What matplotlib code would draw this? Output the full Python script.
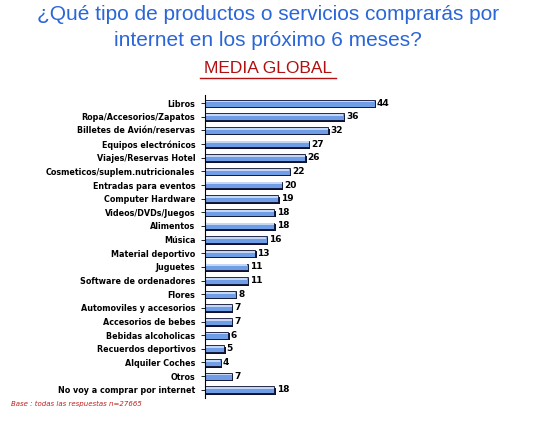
import numpy as np
import matplotlib.pyplot as plt

# categorías y valores (%)
categorias = ['Libros', 'Ropa/Accesorios/Zapatos', 'Billetes de Avión/reservas',
              'Equipos electrónicos', 'Viajes/Reservas Hotel',
              'Cosmeticos/suplem.nutricionales', 'Entradas para eventos',
              'Computer Hardware', 'Videos/DVDs/Juegos', 'Alimentos', 'Música',
              'Material deportivo', 'Juguetes', 'Software de ordenadores', 'Flores',
              'Automoviles y accesorios', 'Accesorios de bebes', 'Bebidas alcoholicas',
              'Recuerdos deportivos', 'Alquiler Coches', 'Otros',
              'No voy a comprar por internet']
valores = [44, 36, 32, 27, 26, 22, 20, 19, 18, 18, 16, 13, 11, 11, 8, 7, 7, 6, 5, 4, 7, 18]

fig = plt.figure(figsize=(5.5, 4.22), dpi=100)
fig.patch.set_facecolor('white')

# títulos
fig.text(0.487, 0.965, '¿Qué tipo de productos o servicios comprarás por',
         ha='center', va='center', fontsize=15, color='#2a66d8', family='Liberation Sans')
fig.text(0.487, 0.905, 'internet en los próximo 6 meses?',
         ha='center', va='center', fontsize=15, color='#2a66d8', family='Liberation Sans')
fig.text(0.487, 0.838, 'MEDIA GLOBAL', ha='center', va='center', fontsize=12.5,
         color='#b01010', family='Liberation Sans')
fig.add_artist(plt.Line2D([0.364, 0.61], [0.815, 0.815], color='#b01010', lw=1))

ax = fig.add_axes([0.373, 0.057, 0.35, 0.718])
y = np.arange(len(categorias))

# sombra, barra y brillo superior
ax.barh(y + 0.12, valores, height=0.5, left=0.35, color='#101030', zorder=1)
ax.barh(y, valores, height=0.5, color='#6f9de6', edgecolor='#101030', lw=0.6, zorder=2)
ax.barh(y - 0.12, np.array(valores) - 0.3, height=0.14, left=0.15,
        color='#c4d8f6', lw=0, zorder=3)
for yi, v in zip(y, valores):
    ax.text(v + 0.6, yi, str(v), va='center', ha='left', fontsize=6.5,
            fontweight='bold', color='black')

ax.set_yticks(y)
ax.set_yticklabels(categorias, fontsize=5.8, fontweight='bold', family='DejaVu Sans')
ax.set_ylim(len(categorias) - 0.4, -0.6)
ax.set_xlim(0, 50)
ax.set_xticks([])
for s in ['top', 'right', 'bottom']:
    ax.spines[s].set_visible(False)
ax.spines['left'].set_linewidth(0.8)
ax.tick_params(axis='y', length=3, width=0.6, pad=4)

fig.text(0.02, 0.038, 'Base : todas las respuestas n=27665', fontsize=5,
         style='italic', color='#c02020')

fig.savefig('out.png', dpi=100)
